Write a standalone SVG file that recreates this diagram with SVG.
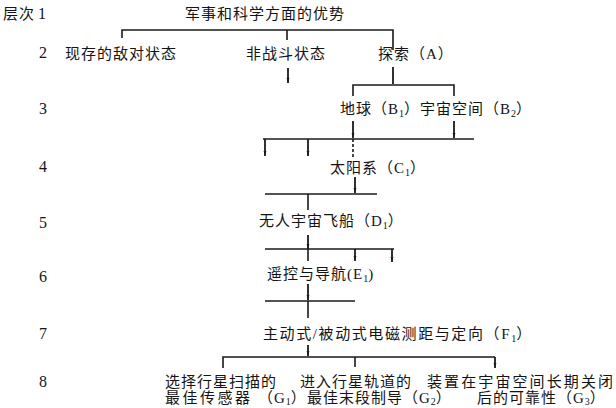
<svg xmlns="http://www.w3.org/2000/svg" width="616" height="408" viewBox="0 0 616 408">
<style>
text{font-family:"Liberation Serif","Noto Sans CJK SC",serif;font-size:15px;fill:#141414;letter-spacing:1px}
.num{font-size:16px;letter-spacing:0}
.sub{font-size:10px;letter-spacing:0}
.ln{fill:none;stroke:#1a1a1a;stroke-width:1.6}
.tk{fill:none;stroke:#1a1a1a;stroke-width:1.8}
</style>
<defs>
<marker id="ah" markerUnits="userSpaceOnUse" markerWidth="6" markerHeight="4" refX="5" refY="2" orient="auto">
<path d="M0,0.6 L5,2 L0,3.4 z" fill="#1a1a1a"/>
</marker>
</defs>
<rect width="616" height="408" fill="#fff"/>

<g id="levels">
<text x="3" y="19">层次<tspan class="num" dx="3">1</tspan></text>
<text class="num" x="39" y="58">2</text>
<text class="num" x="39" y="114">3</text>
<text class="num" x="39" y="172">4</text>
<text class="num" x="39" y="228">5</text>
<text class="num" x="39" y="282">6</text>
<text class="num" x="39" y="339">7</text>
<text class="num" x="39" y="387">8</text>
</g>

<g id="connectors">
<path class="ln" d="M122,38 V30 H393 V50"/>
<path class="ln" d="M287,30 V40"/>
<path class="tk" d="M288,68 V83" marker-end="url(#ah)"/>
<path class="tk" d="M393,67 V84"/>
<path class="ln" d="M353,96 V85 H454 V96"/>
<path class="tk" d="M353,121 V138" marker-end="url(#ah)"/>
<path class="tk" d="M454,121 V138" marker-end="url(#ah)"/>
<path class="ln" d="M263,139 H474"/>
<path class="tk" d="M265,139 V156" marker-end="url(#ah)"/>
<path class="tk" d="M308,139 V156" marker-end="url(#ah)"/>
<path class="ln" d="M353,139 V159" stroke-dasharray="3,2"/>
<path class="tk" d="M355,177 V193" marker-end="url(#ah)"/>
<path class="ln" d="M265,194 H377"/>
<path class="ln" d="M308,194 V210"/>
<path class="tk" d="M308,235 V249" marker-end="url(#ah)"/>
<path class="ln" d="M265,249 H394"/>
<path class="ln" d="M308,249 V261"/>
<path class="tk" d="M355,249 V261" marker-end="url(#ah)"/>
<path class="tk" d="M392,249 V262" marker-end="url(#ah)"/>
<path class="tk" d="M308,284 V300" marker-end="url(#ah)"/>
<path class="ln" d="M265,301 H355"/>
<path class="ln" d="M308,301 V318"/>
<path class="tk" d="M308,345 V356" marker-end="url(#ah)"/>
<path class="ln" d="M223,368 V357 H495"/>
<path class="ln" d="M355,357 V367"/>
<path class="tk" d="M495,357 V368" marker-end="url(#ah)"/>
</g>

<g id="n-top"><text x="185" y="19">军事和科学方面的优势</text></g>
<g id="n-hostile"><text x="65" y="58.5">现存的敌对状态</text></g>
<g id="n-nonwar"><text x="246" y="58.5">非战斗状态</text></g>
<g id="n-A"><text x="378" y="58.5">探索（A）</text></g>
<g id="n-B"><text x="340" y="113.5">地球（B<tspan class="sub" dy="3">1</tspan><tspan dy="-3">）宇宙空间（B</tspan><tspan class="sub" dy="3">2</tspan><tspan dy="-3">）</tspan></text></g>
<g id="n-C1"><text x="330" y="172.5">太阳系（C<tspan class="sub" dy="3">1</tspan><tspan dy="-3">）</tspan></text></g>
<g id="n-D1"><text x="259" y="225.5">无人宇宙飞船（D<tspan class="sub" dy="3">1</tspan><tspan dy="-3">）</tspan></text></g>
<g id="n-E1"><text x="267" y="278.5">遥控与导航(E<tspan class="sub" dy="3">1</tspan><tspan dy="-3">)</tspan></text></g>
<g id="n-F1"><text x="263" y="338.5" style="letter-spacing:1.6px">主动式/被动式电磁测距与定向（F<tspan class="sub" dy="3">1</tspan><tspan dy="-3">）</tspan></text></g>
<g id="n-G1"><text x="165" y="386.5">选择行星扫描的</text><text x="165" y="403" style="letter-spacing:2.5px">最佳传感器</text><text x="258" y="403">（G<tspan class="sub" dy="2">1</tspan><tspan dy="-2">）</tspan></text></g>
<g id="n-G2"><text x="300" y="386.5">进入行星轨道的</text><text x="307" y="403">最佳末段制导（G<tspan class="sub" dy="2">2</tspan><tspan dy="-2">）</tspan></text></g>
<g id="n-G3"><text x="427" y="386.5" style="letter-spacing:2.1px">装置在宇宙空间长期关闭</text><text x="477" y="403">后的可靠性（G<tspan class="sub" dy="2">3</tspan><tspan dy="-2">）</tspan></text></g>
</svg>
